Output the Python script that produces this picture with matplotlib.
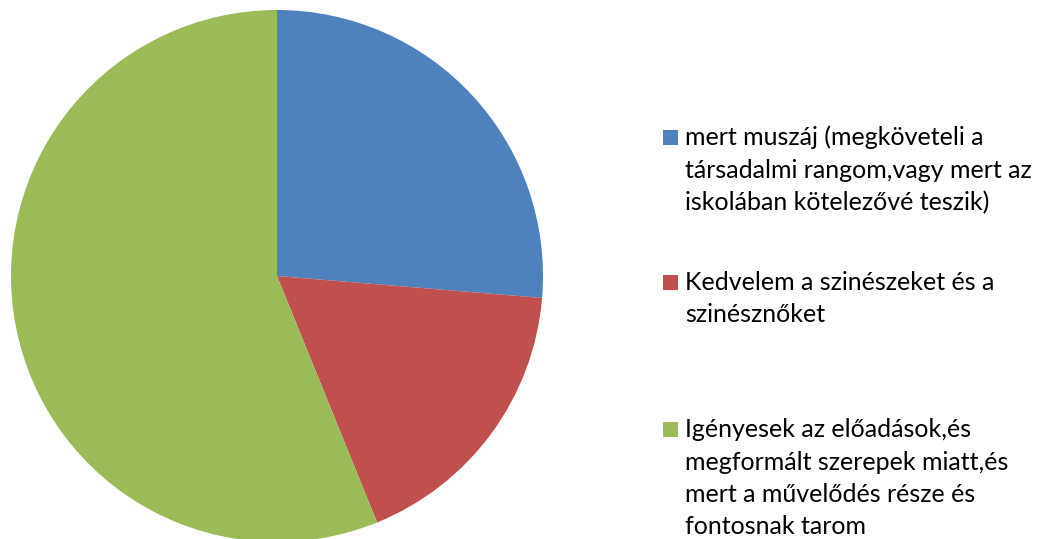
import matplotlib
matplotlib.use("Agg")
import matplotlib.pyplot as plt
from matplotlib.patches import Rectangle

# data
labels = [
    ["mert muszáj (megköveteli a", "társadalmi rangom,vagy mert az", "iskolában kötelezővé teszik)"],
    ["Kedvelem a szinészeket és a", "szinésznőket"],
    ["Igényesek az előadások,és", "megformált szerepek miatt,és", "mert a művelődés része és", "fontosnak tarom"],
]
values = [15, 10, 32]
colors = ["#4F81BD", "#C0504D", "#9BBB59"]

W, H = 1040, 539
fig = plt.figure(figsize=(W / 100, H / 100), dpi=100)
fig.patch.set_facecolor("white")

# pie: centre (277, 276) px from top-left, radius 266 px
cx, cy, r = 277, 276, 266
ax = fig.add_axes([(cx - r) / W, (H - cy - r) / H, 2 * r / W, 2 * r / H])
ax.pie(values, colors=colors, startangle=90, counterclock=False,
       wedgeprops=dict(linewidth=0))
ax.set_xlim(-1, 1)
ax.set_ylim(-1, 1)
ax.set_aspect("equal")
ax.axis("off")

# legend drawn by hand (px from top)
first_baseline = [145, 290, 437]
pitch = 32.5
sq_x, sq_size = 663, 15
txt_x = 685
for lines, col, b0 in zip(labels, colors, first_baseline):
    fig.patches.append(Rectangle((sq_x / W, (H - b0) / H), sq_size / W, sq_size / H,
                                 transform=fig.transFigure, facecolor=col, edgecolor="none"))
    for i, line in enumerate(lines):
        fig.text(txt_x / W, (H - (b0 + i * pitch)) / H, line, fontsize=18,
                 family=["Lato", "DejaVu Sans"], color="black", va="baseline", ha="left")

fig.savefig("out.png", dpi=100, facecolor="white")
